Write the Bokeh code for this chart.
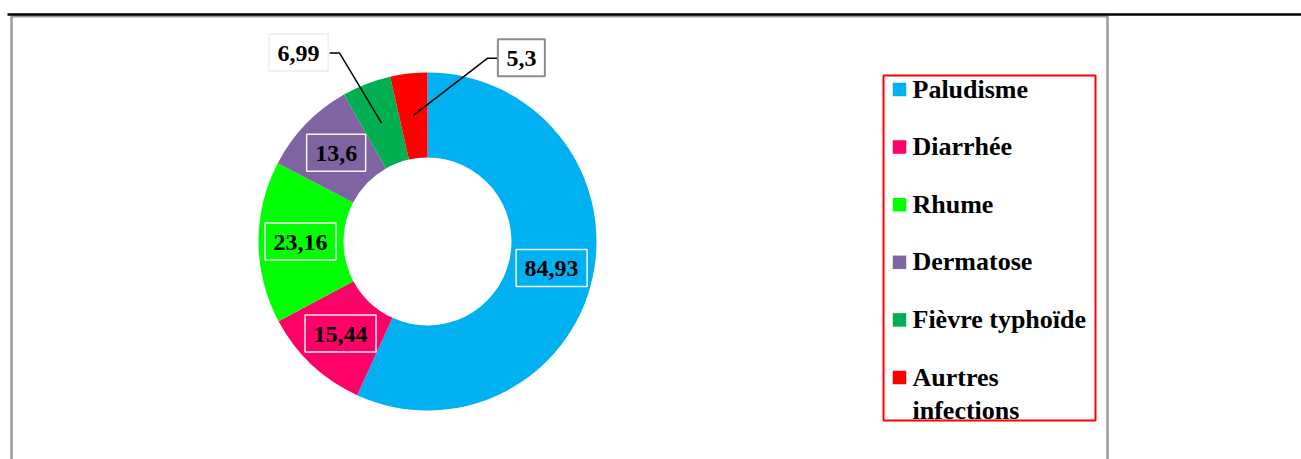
import numpy as np
from bokeh.plotting import figure
from bokeh.models import Range1d, ColumnDataSource
from bokeh.core.properties import value
from bokeh.embed import file_html
from bokeh.resources import INLINE

# ---- data ----
categories = ["Paludisme", "Diarrhée", "Rhume", "Dermatose", "Fièvre typhoïde", "Aurtres\ninfections"]
values = [84.93, 15.44, 23.16, 13.6, 6.99, 5.3]
value_labels = ["84,93", "15,44", "23,16", "13,6", "6,99", "5,3"]
colors = ["#00B0F0", "#FF0066", "#00FF00", "#8064A2", "#00B050", "#FF0000"]

# ---- layout (page pixels) ----
W, H = 1301, 459
def X(px):
    return px
def Y(py):
    return H - py

CX, CY = 427, 241          # donut centre (page px)
R_OUT, R_IN = 169, 84
R_LAB = 127
LABEL_PX = 24
# offsets (px, page) of outside labels relative to their anchor on the ring
label_offset = [(0, 0), (0, 0), (0, 0), (0, 0), (-83, -70), (108, -57)]
elbow_offset = [None, None, None, None, (-42, -70), (74, -57)]
edge_offset = [None, None, None, None, (-52, -70), (85, -57)]
label_fill = [None, None, None, None, "white", "white"]
label_border = ["#f2f2f2", "#f2f2f2", "#f2f2f2", "#f2f2f2", "#eeeeee", "#8c8c8c"]
label_border_w = [1.5, 1.5, 1.5, 1.5, 1.5, 2]

FONT = value("Liberation Serif")

p = figure(width=W, height=H, x_range=Range1d(0, W), y_range=Range1d(0, H),
           output_backend="svg", toolbar_location=None, min_border=0,
           x_axis_location=None, y_axis_location=None)
p.grid.visible = False
p.outline_line_color = None

# table frame lines
p.segment(x0=[X(11), X(1107)], y0=[Y(15), Y(15)], x1=[X(11), X(1107)], y1=[Y(470), Y(470)],
          line_color="#9a9a9a", line_width=2.5)
p.segment(x0=[X(11)], y0=[Y(16)], x1=[X(1107)], y1=[Y(16)], line_color="#9a9a9a", line_width=2)
p.segment(x0=[X(7)], y0=[Y(14)], x1=[X(1310)], y1=[Y(14)], line_color="black", line_width=2.5)

# donut
total = float(sum(values))
frac = np.array(values) / total
cum = np.concatenate([[0.0], np.cumsum(frac)])
start = np.pi / 2 - 2 * np.pi * cum[:-1]
end = np.pi / 2 - 2 * np.pi * cum[1:]
mid = (start + end) / 2

src = ColumnDataSource(dict(start=start, end=end, color=colors, cat=categories, val=values))
p.annular_wedge(x=X(CX), y=Y(CY), inner_radius=R_IN, outer_radius=R_OUT,
                start_angle="start", end_angle="end", direction="clock",
                fill_color="color", line_color=None, source=src)

# data labels
ax = X(CX) + R_LAB * np.cos(mid)
ay = Y(CY) + R_LAB * np.sin(mid)
lx = ax + np.array([o[0] for o in label_offset])
ly = ay - np.array([o[1] for o in label_offset])

# leader lines
xs, ys = [], []
for i in range(len(values)):
    if elbow_offset[i] is not None:
        xs.append([ax[i], ax[i] + elbow_offset[i][0], ax[i] + edge_offset[i][0]])
        ys.append([ay[i], ay[i] - elbow_offset[i][1], ay[i] - edge_offset[i][1]])
p.multi_line(xs=xs, ys=ys, line_color="black", line_width=1.5)

# label boxes: width from the label's text width (serif digits 0.5em, comma 0.25em)
box_w = [LABEL_PX * sum(0.25 if c == "," else 0.5 for c in s) + 17 for s in value_labels]
for i in range(len(values)):
    p.rect(x=[lx[i]], y=[ly[i] + 0.5], width=[box_w[i]], height=[37],
           width_units="screen", height_units="screen",
           fill_color=label_fill[i] if label_fill[i] else colors[i],
           line_color=label_border[i], line_width=label_border_w[i])
p.text(x=lx, y=ly, text=value_labels, text_font=FONT,
       text_font_style="bold", text_font_size=f"{LABEL_PX}px", text_color="black",
       text_align="center", text_baseline="middle")

# legend (drawn from the categories)
LEG_L, LEG_R, LEG_T, LEG_B = 883, 1095, 75, 420
p.quad(left=[X(LEG_L)], right=[X(LEG_R)], top=[Y(LEG_T)], bottom=[Y(LEG_B)],
       fill_color=None, line_color="#FF0000", line_width=2)
idx = np.arange(len(categories))
sq_y = Y(89 + 57.6 * idx)
p.scatter(x=[X(899)] * len(categories), y=sq_y, marker="square", size=13.5,
          fill_color=colors, line_color=None)
p.text(x=[X(912)] * len(categories), y=sq_y + 15, text=categories, text_font=FONT,
       text_font_style="bold", text_font_size="26px", text_color="black",
       text_align="left", text_baseline="top", text_line_height=1.15)

open("out.html", "w").write(file_html(p, INLINE))
